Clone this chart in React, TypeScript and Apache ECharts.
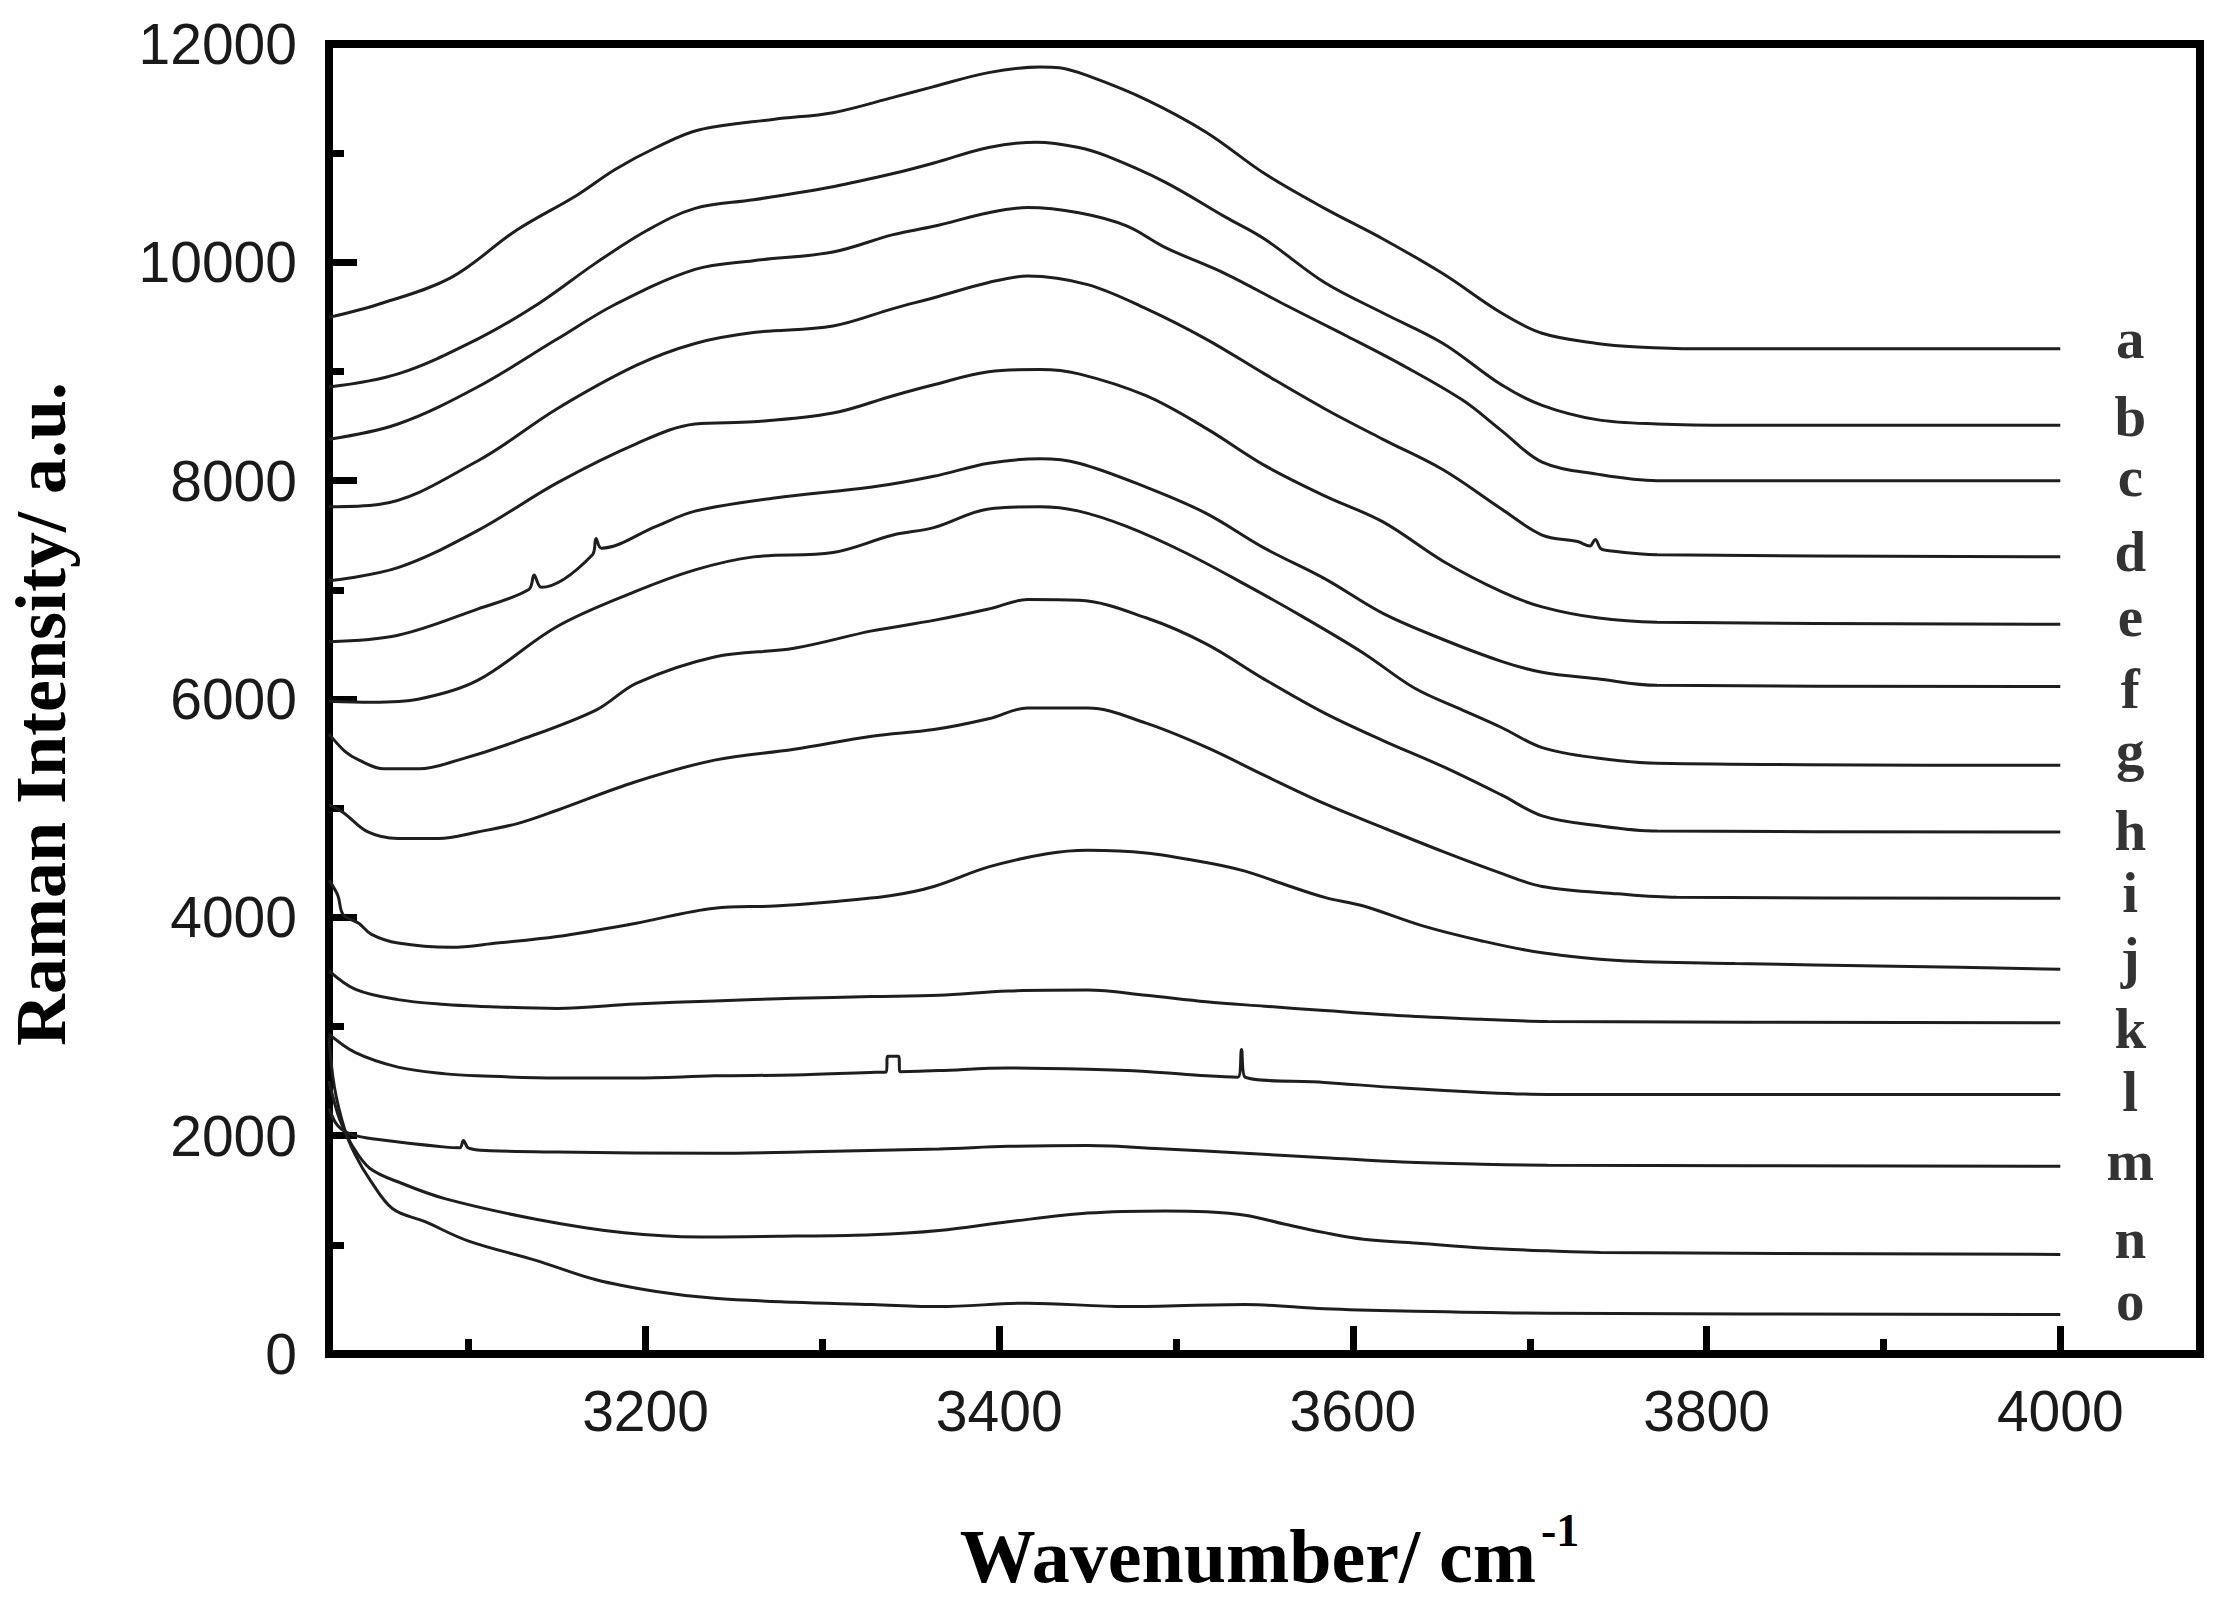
import React, { useEffect, useRef } from 'react';
import * as echarts from 'echarts';

// ---- data (wavenumber cm^-1, Raman intensity a.u.) ----
const curveNames = ['a', 'b', 'c', 'd', 'e', 'f', 'g', 'h', 'i', 'j', 'k', 'l', 'm', 'n', 'o'];

const curveA = [
  [3021, 9496], [3049, 9616], [3090, 9860], [3127, 10294], [3161, 10613], [3183, 10853], [3206, 11052],
  [3230, 11212], [3273, 11311], [3306, 11371], [3340, 11511], [3363, 11610], [3394, 11738], [3423, 11790],
  [3434, 11782], [3450, 11710], [3483, 11491], [3517, 11192], [3550, 10813], [3584, 10494], [3617, 10214],
  [3651, 9895], [3684, 9536], [3707, 9350], [3738, 9257], [3761, 9225], [3794, 9209], [4000, 9209],
];
const curveB = [
  [3021, 8858], [3060, 8978], [3105, 9297], [3139, 9616], [3172, 9995], [3201, 10294], [3228, 10494],
  [3261, 10573], [3306, 10693], [3340, 10813], [3363, 10910], [3394, 11052], [3421, 11100], [3445, 11052],
  [3461, 10972], [3494, 10733], [3528, 10414], [3550, 10214], [3584, 9815], [3617, 9536], [3651, 9257],
  [3684, 8878], [3707, 8690], [3738, 8559], [3772, 8519], [3816, 8507], [4000, 8507],
];
const curveC = [
  [3021, 8379], [3060, 8519], [3105, 8858], [3150, 9297], [3183, 9616], [3228, 9935], [3261, 10015],
  [3306, 10095], [3340, 10254], [3363, 10330], [3394, 10454], [3416, 10502], [3445, 10454], [3472, 10334],
  [3494, 10135], [3528, 9895], [3561, 9616], [3595, 9337], [3628, 9058], [3662, 8738], [3684, 8459],
  [3707, 8170], [3738, 8060], [3772, 8000], [4000, 8000],
];
const curveD = [
  [3021, 7761], [3049, 7781], [3105, 8180], [3150, 8659], [3195, 9058], [3228, 9257], [3261, 9357],
  [3306, 9417], [3340, 9576], [3363, 9676], [3394, 9815], [3416, 9875], [3450, 9796], [3483, 9576],
  [3517, 9297], [3550, 8978], [3584, 8659], [3617, 8379], [3651, 8100], [3684, 7741], [3707, 7502],
  [3727, 7442], [3734, 7402], [3737, 7462], [3740, 7380], [3743, 7362], [3772, 7322], [4000, 7302],
];
const curveE = [
  [3021, 7083], [3060, 7203], [3105, 7542], [3150, 7980], [3195, 8340], [3228, 8519], [3261, 8539],
  [3306, 8619], [3340, 8778], [3363, 8878], [3394, 8998], [3423, 9018], [3445, 8978], [3483, 8778],
  [3517, 8479], [3550, 8140], [3584, 7861], [3617, 7622], [3651, 7262], [3684, 6983], [3707, 6844],
  [3738, 6744], [3772, 6704], [4000, 6684],
];
const curveF = [
  [3021, 6525], [3060, 6584], [3105, 6824], [3134, 7003], [3137, 7135], [3141, 7023], [3170, 7322],
  [3172, 7470], [3175, 7382], [3206, 7582], [3228, 7721], [3273, 7841], [3328, 7941], [3363, 8040],
  [3394, 8160], [3423, 8200], [3445, 8160], [3483, 7941], [3517, 7701], [3550, 7382], [3584, 7103],
  [3617, 6784], [3651, 6545], [3684, 6345], [3707, 6245], [3738, 6185], [3772, 6125], [4000, 6114],
];
const curveG = [
  [3021, 5980], [3045, 5970], [3072, 6000], [3105, 6170], [3150, 6664], [3194, 6983], [3228, 7183],
  [3261, 7302], [3306, 7342], [3340, 7502], [3363, 7570], [3394, 7741], [3423, 7761], [3445, 7721],
  [3472, 7581], [3505, 7342], [3539, 7050], [3572, 6750], [3606, 6420], [3635, 6098], [3662, 5899],
  [3684, 5739], [3707, 5555], [3738, 5460], [3772, 5412], [4000, 5392],
];
const curveH = [
  [3021, 5680], [3030, 5520], [3038, 5440], [3052, 5360], [3072, 5360], [3094, 5440], [3128, 5619],
  [3172, 5899], [3195, 6146], [3239, 6385], [3284, 6465], [3328, 6624], [3363, 6720], [3394, 6824],
  [3416, 6911], [3445, 6904], [3483, 6744], [3517, 6505], [3550, 6180], [3584, 5870], [3617, 5619],
  [3651, 5380], [3684, 5121], [3707, 4930], [3738, 4841], [3772, 4790], [4000, 4782],
];
const curveI = [
  [3021, 5030], [3029, 4961], [3043, 4782], [3060, 4722], [3083, 4722], [3105, 4782], [3128, 4861],
  [3150, 4981], [3194, 5240], [3239, 5440], [3284, 5540], [3328, 5659], [3363, 5720], [3394, 5819],
  [3416, 5918], [3450, 5918], [3483, 5779], [3517, 5559], [3550, 5300], [3584, 5041], [3617, 4822],
  [3651, 4602], [3684, 4403], [3707, 4283], [3750, 4215], [3783, 4183], [4000, 4175],
];
const curveJ = [
  [3021, 4340], [3026, 4200], [3029, 4024], [3038, 3944], [3045, 3844], [3060, 3764], [3090, 3725],
  [3116, 3764], [3150, 3824], [3194, 3944], [3239, 4084], [3273, 4104], [3306, 4143], [3340, 4203],
  [3363, 4283], [3394, 4462], [3427, 4582], [3450, 4614], [3483, 4590], [3517, 4502], [3539, 4423],
  [3561, 4303], [3584, 4183], [3606, 4104], [3639, 3924], [3673, 3784], [3707, 3675], [3750, 3605],
  [3816, 3577], [3906, 3553], [4000, 3525],
];
const curveK = [
  [3021, 3510], [3036, 3340], [3060, 3246], [3087, 3201], [3105, 3186], [3150, 3166], [3194, 3206],
  [3239, 3234], [3284, 3258], [3328, 3274], [3366, 3286], [3405, 3326], [3450, 3334], [3483, 3286],
  [3517, 3226], [3550, 3186], [3584, 3146], [3628, 3098], [3673, 3066], [3710, 3046], [4000, 3034],
];
const curveL = [
  [3021, 2930], [3036, 2760], [3060, 2628], [3087, 2566], [3105, 2548], [3150, 2528], [3194, 2528],
  [3239, 2548], [3284, 2556], [3330, 2580], [3336, 2583], [3337, 2727], [3343, 2727], [3344, 2586],
  [3366, 2596], [3405, 2620], [3450, 2608], [3483, 2588], [3517, 2548], [3535, 2536], [3537, 2790],
  [3539, 2536], [3584, 2488], [3628, 2436], [3673, 2396], [3710, 2378], [4000, 2376],
];
const curveM = [
  [3021, 2250], [3026, 2090], [3034, 2010], [3049, 1965], [3087, 1895], [3095, 1890], [3097, 1955],
  [3100, 1885], [3112, 1862], [3150, 1850], [3239, 1838], [3300, 1855], [3366, 1878], [3405, 1902],
  [3450, 1910], [3494, 1878], [3539, 1838], [3584, 1798], [3628, 1758], [3673, 1738], [3710, 1730],
  [4000, 1720],
];
const curveN = [
  [3021, 2500], [3027, 2150], [3034, 1913], [3044, 1702], [3062, 1564], [3087, 1421], [3138, 1235],
  [3188, 1110], [3231, 1072], [3284, 1080], [3328, 1092], [3366, 1132], [3405, 1211], [3450, 1291],
  [3494, 1311], [3517, 1303], [3539, 1271], [3561, 1191], [3584, 1112], [3606, 1052], [3639, 1012],
  [3673, 972], [3710, 945], [3740, 930], [4000, 912],
];
const curveO = [
  [3021, 2900], [3024, 2450], [3030, 2050], [3036, 1820], [3044, 1600], [3057, 1330], [3075, 1214],
  [3100, 1034], [3138, 858], [3172, 680], [3206, 573], [3239, 510], [3284, 474], [3328, 454],
  [3366, 434], [3416, 466], [3472, 434], [3539, 454], [3584, 414], [3628, 394], [3710, 374], [4000, 362],
];

const allCurves = [curveA, curveB, curveC, curveD, curveE, curveF, curveG, curveH, curveI, curveJ, curveK, curveL, curveM, curveN, curveO];

const xMajorTicks = [3200, 3400, 3600, 3800, 4000];
const xMinorTicks = [3100, 3300, 3500, 3700, 3900];
const xMin = 3021;
const xMax = 4079;
const yMin = 0;
const yMax = 12000;
const yStep = 2000;

// style: vertical pixel nudge of each curve letter relative to its curve end
const letterNudgeY = [-10, -9, -4, -5, -8, 2, -15, -1, -6, -12, 6, -3, -6, -16, -14];

const SANS = '"Liberation Sans", Arial, sans-serif';
const SERIF = '"Liberation Serif", "Times New Roman", serif';

export default function App() {
  const ref = useRef<HTMLDivElement>(null);

  useEffect(() => {
    if (!ref.current) return;
    const chart = echarts.init(ref.current, null, { renderer: 'svg' });

    const lineSeries = allCurves.map((data, i) => ({
      name: curveNames[i],
      type: 'line',
      data,
      xAxisIndex: 0,
      yAxisIndex: 0,
      showSymbol: false,
      symbol: 'none',
      smooth: 0.35,
      lineStyle: { color: '#1e1e1e', width: 3 },
      silent: true,
      z: 3,
    }));

    const endPoints = allCurves.map((data, i) => ({
      name: curveNames[i],
      value: data[data.length - 1],
      label: { offset: [70, letterNudgeY[i]] },
    }));

    const labelSeries = {
      type: 'scatter',
      data: endPoints,
      symbolSize: 0,
      silent: true,
      label: {
        show: true,
        position: 'inside',
        formatter: (p: any) => p.name,
        fontFamily: SERIF,
        fontWeight: 'bold',
        fontSize: 57,
        color: '#000',
      },
      z: 5,
    };

    const tickLine = { color: '#000', width: 7 };
    const plainNumber = (v: number) => String(v);

    const option = {
      animation: false,
      backgroundColor: '#ffffff',
      grid: {
        left: 329,
        top: 44,
        width: 1871,
        height: 1310,
        show: true,
        borderColor: '#000',
        borderWidth: 8,
        backgroundColor: 'transparent',
        containLabel: false,
      },
      xAxis: [
        {
          type: 'value',
          min: xMin,
          max: xMax,
          position: 'bottom',
          axisLine: { show: false, onZero: false },
          splitLine: { show: false },
          axisTick: {
            show: true,
            inside: true,
            length: 28,
            lineStyle: tickLine,
            customValues: xMajorTicks,
          },
          axisLabel: {
            show: true,
            customValues: xMajorTicks,
            formatter: plainNumber,
            margin: 28,
            fontFamily: SANS,
            fontSize: 57,
            color: '#1a1a1a',
          },
        },
        {
          type: 'value',
          min: xMin,
          max: xMax,
          position: 'bottom',
          axisLine: { show: false, onZero: false },
          splitLine: { show: false },
          axisTick: {
            show: true,
            inside: true,
            length: 15,
            lineStyle: tickLine,
            customValues: xMinorTicks,
          },
          axisLabel: { show: false },
        },
      ],
      yAxis: {
        type: 'value',
        min: yMin,
        max: yMax,
        interval: yStep,
        axisLine: { show: false },
        splitLine: { show: false },
        axisTick: { show: true, inside: true, length: 28, lineStyle: tickLine },
        minorTick: { show: true, splitNumber: 2, length: 15, lineStyle: tickLine },
        minorSplitLine: { show: false },
        axisLabel: {
          margin: 32,
          formatter: plainNumber,
          fontFamily: SANS,
          fontSize: 57,
          color: '#1a1a1a',
        },
      },
      graphic: [
        {
          type: 'text',
          x: 41,
          y: 714,
          rotation: Math.PI / 2,
          style: {
            text: 'Raman Intensity/ a.u.',
            font: `bold 72px ${SERIF}`,
            fill: '#000',
            textAlign: 'center',
            textVerticalAlign: 'middle',
          },
        },
        {
          type: 'text',
          x: 1248,
          y: 1556,
          style: {
            text: 'Wavenumber/ cm',
            font: `bold 76px ${SERIF}`,
            fill: '#000',
            textAlign: 'center',
            textVerticalAlign: 'middle',
          },
        },
        {
          type: 'text',
          x: 1541,
          y: 1530,
          style: {
            text: '-1',
            font: `bold 46px ${SERIF}`,
            fill: '#000',
            textAlign: 'left',
            textVerticalAlign: 'middle',
          },
        },
      ],
      series: [...lineSeries, labelSeries],
    };

    chart.setOption(option as any);
    return () => chart.dispose();
  }, []);

  return (
    <div
      ref={ref}
      style={{ position: 'absolute', left: 0, top: 0, width: 2222, height: 1597, background: '#fff' }}
    />
  );
}
